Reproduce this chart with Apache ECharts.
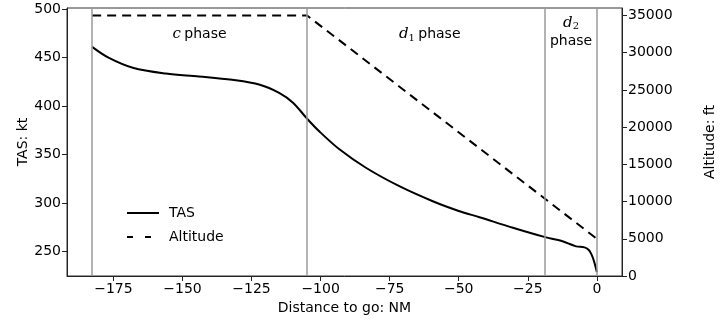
<!DOCTYPE html>
<html>
<head>
<meta charset="utf-8">
<script src="https://cdn.jsdelivr.net/npm/echarts@6/dist/echarts.min.js"></script>
<style>
  html, body { margin: 0; padding: 0; background: #fff; }
  #chart { width: 720px; height: 322px; }
</style>
</head>
<body>
<div id="chart"></div>
<script>
// distance to go (NM) and true airspeed (kt)
const tasDist = [-182.7, -176.6, -168, -156, -144, -132, -122, -115, -110, -104.9,
  -100.5, -93.2, -83.6, -71.5, -59.4, -50, -42.5, -30.4, -18.7, -14, -11, -7.5, -4.5, -3, -2, -1, 0];
const tasVal = [461, 449.6, 439.5, 433.5, 430.5, 427, 422, 413.6, 403.5, 387,
  374, 355.5, 336.5, 317.5, 302, 292, 285.5, 274.7, 265, 262, 259.3, 255.5, 254.5, 252, 247.5, 240, 229];

// altitude profile (ft)
const altDist = [-182.7, -104.9, 0];
const altVal = [35000, 35000, 5000];

// phase boundaries
const phaseLines = [-182.7, -104.9, -18.7, 0];

const xTicks = [-175, -150, -125, -100, -75, -50, -25, 0];
const tasTicks = [250, 300, 350, 400, 450, 500];

const FONT = 'DejaVu Sans';
const minus = v => (v < 0 ? '\u2212' + Math.abs(v) : String(v));

const chart = echarts.init(document.getElementById('chart'), null, { renderer: 'canvas' });

const option = {
  animation: false,
  textStyle: { fontFamily: FONT },
  grid: {
    left: 67, right: 98, top: 8, bottom: 46,
    outerBoundsMode: 'none',
    show: true, borderColor: '#333', borderWidth: 1, backgroundColor: 'transparent'
  },
  legend: {
    orient: 'vertical',
    left: 126, top: 206,
    itemWidth: 32, itemHeight: 12, itemGap: 10,
    padding: 0,
    itemStyle: { opacity: 0 },
    textStyle: { fontFamily: FONT, fontSize: 14, color: '#000', padding: [0, 0, 0, 5] },
    data: [
      { name: 'TAS' },
      { name: 'Altitude', lineStyle: { type: [6, 12], width: 2 } }
    ]
  },
  xAxis: {
    type: 'value',
    min: -191.8, max: 9.1,
    name: 'Distance to go: NM',
    nameLocation: 'middle',
    nameGap: 25,
    nameMoveOverlap: false,
    nameTextStyle: { fontFamily: FONT, fontSize: 14, color: '#000' },
    axisLine: { show: true, onZero: false, lineStyle: { color: '#222', width: 1 } },
    axisTick: { show: true, length: 5, lineStyle: { color: '#222' }, customValues: xTicks },
    axisLabel: { fontFamily: FONT, fontSize: 14, color: '#000', margin: 6, formatter: minus, customValues: xTicks },
    splitLine: { show: false }
  },
  yAxis: [{
    type: 'value',
    min: 225, max: 501,
    position: 'left',
    name: 'TAS: kt',
    nameLocation: 'middle',
    nameGap: 37,
    nameMoveOverlap: false,
    nameRotate: 90,
    nameTextStyle: { fontFamily: FONT, fontSize: 14, color: '#000' },
    axisLine: { show: true, onZero: false, lineStyle: { color: '#222', width: 1 } },
    axisTick: { show: true, length: 5, lineStyle: { color: '#222' }, customValues: tasTicks },
    axisLabel: { fontFamily: FONT, fontSize: 14, color: '#000', margin: 6, customValues: tasTicks },
    splitLine: { show: false }
  }, {
    type: 'value',
    min: 0, max: 36000, interval: 5000,
    position: 'right',
    name: 'Altitude: ft',
    nameLocation: 'middle',
    nameGap: 81,
    nameMoveOverlap: false,
    nameRotate: 90,
    nameTextStyle: { fontFamily: FONT, fontSize: 14, color: '#000' },
    axisLine: { show: true, onZero: false, lineStyle: { color: '#222', width: 1 } },
    axisTick: { show: true, length: 5, lineStyle: { color: '#222' } },
    axisLabel: { fontFamily: FONT, fontSize: 14, color: '#000', margin: 6, showMaxLabel: false, formatter: v => String(v) },
    splitLine: { show: false }
  }],
  series: [{
    name: 'TAS',
    type: 'line',
    yAxisIndex: 0,
    data: tasDist.map((d, i) => [d, tasVal[i]]),
    smooth: 0.35,
    symbol: 'none',
    lineStyle: { color: '#000', width: 2 },
    itemStyle: { color: '#000' },
    z: 3,
    markLine: {
      silent: true,
      symbol: 'none',
      label: { show: false },
      lineStyle: { color: '#9a9a9a', width: 1.5, type: 'solid' },
      data: phaseLines.map(x => ({ xAxis: x }))
    }
  }, {
    name: 'Altitude',
    type: 'line',
    yAxisIndex: 1,
    data: altDist.map((d, i) => [d, altVal[i]]),
    symbol: 'none',
    lineStyle: { color: '#000', width: 2, type: [9, 6] },
    itemStyle: { color: '#000' },
    z: 3
  }]
};
chart.setOption(option);

// phase labels placed in data coordinates
const richText = {
  m: { fontFamily: 'DejaVu Serif', fontStyle: 'italic', fontSize: 15, color: '#000' },
  sub: { fontFamily: 'DejaVu Serif', fontSize: 10, color: '#000', padding: [8, 0, 0, 0] },
  t: { fontFamily: FONT, fontSize: 14, color: '#000' }
};
const labels = [
  { x: -143.8, y: 474, text: '{m|c} {t|phase}' },
  { x: -60.5, y: 474, text: '{m|d}{sub|1} {t|phase}' },
  { x: -9.35, y: 476, text: '{m|d}{sub|2}\n{t|phase}' }
];
chart.setOption({
  graphic: labels.map(l => {
    const p = chart.convertToPixel({ xAxisIndex: 0, yAxisIndex: 0 }, [l.x, l.y]);
    return {
      type: 'text',
      x: p[0], y: p[1],
      style: { text: l.text, rich: richText, align: 'center', verticalAlign: 'middle', lineHeight: 19 }
    };
  })
});
</script>
</body>
</html>
